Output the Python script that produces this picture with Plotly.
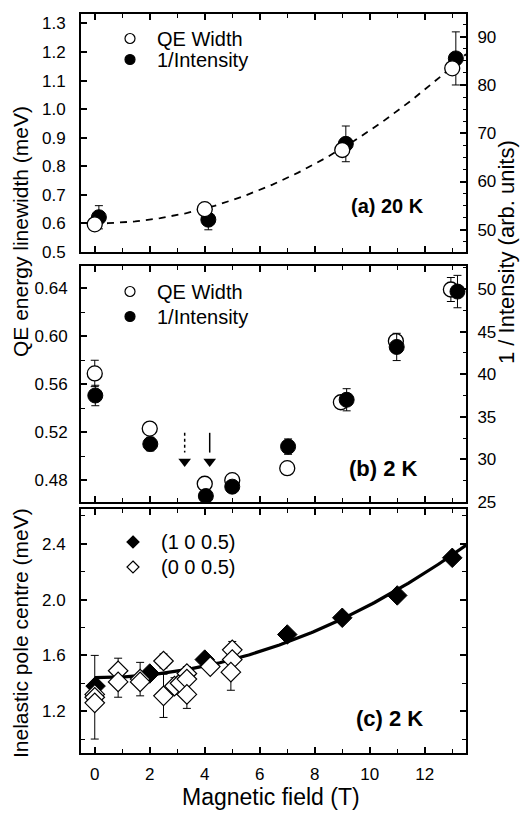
import numpy as np
import plotly.graph_objects as go

# ---------------- data ----------------
# (a) 20 K
field_a_width = [0.0, 4.0, 9.0, 13.0]
width_a = [0.597, 0.650, 0.857, 1.143]
field_a_int = [0.15, 4.13, 9.13, 13.13]
inv_int_a = [52.6, 52.1, 67.8, 85.5]
inv_int_a_err = [2.4, 2.1, 3.7, 5.5]
fit_a = [0.60, 0.00325]          # width = c0 + c2 * B^2

# (b) 2 K
field_b_width = [0.0, 2.0, 4.0, 5.0, 7.0, 8.95, 10.95, 12.95]
width_b = [0.569, 0.523, 0.477, 0.480, 0.490, 0.545, 0.596, 0.639]
width_b_err = [0.011, 0, 0, 0, 0.003, 0, 0, 0.010]
field_b_int = [0.02, 2.02, 4.04, 5.0, 7.03, 9.16, 10.98, 13.19]
inv_int_b = [37.5, 31.8, 25.7, 26.8, 31.5, 37.0, 43.2, 49.7]
inv_int_b_err = [1.2, 0.8, 0, 0, 0.9, 1.3, 1.6, 1.9]
arrow_fields = [3.27, 4.18]
arrow_top, arrow_base, arrow_head = 0.5195, 0.503, 0.4955

# (c) 2 K
field_c_100 = [0.03, 2.0, 4.0, 7.0, 9.0, 11.0, 13.0]
pole_100 = [1.38, 1.47, 1.57, 1.75, 1.87, 2.03, 2.30]
field_c_000 = [0.0, 0.0, 0.0, 0.85, 0.85, 1.65, 1.65, 2.5, 2.5, 2.9, 3.1,
               3.35, 3.35, 3.35, 4.2, 5.0, 5.0, 4.95]
pole_000 = [1.32, 1.30, 1.26, 1.49, 1.41, 1.43, 1.41, 1.56, 1.31, 1.38, 1.40,
            1.47, 1.43, 1.32, 1.52, 1.64, 1.57, 1.48]
pole_000_err = [0, 0.30, 0, 0.09, 0.11, 0.12, 0, 0.05, 0.155, 0.06, 0.05,
                0.05, 0, 0.10, 0.04, 0.06, 0, 0.13]
fit_c = [1.44, 0.00521]

x_ticks = [0, 2, 4, 6, 8, 10, 12]

# ---------------- layout geometry ----------------
W, H = 522, 813
ML, MR, MT, MB = 81, 56, 14, 60
FONT = "Liberation Sans, Arial, sans-serif"


def px_x(x):
    return (x - ML) / (W - ML - MR)


def px_y(y):
    return (H - MB - y) / (H - MT - MB)


dom_a = [px_y(252), px_y(14)]
dom_b = [px_y(502), px_y(266)]
dom_c = [0.0, px_y(509)]

fig = go.Figure()

err_style = dict(type="data", color="black", thickness=1, width=4)

# ---- panel (a): base axis y = right (1/intensity), overlay y4 = left (width)
fig.add_trace(go.Scatter(
    x=field_a_int, y=inv_int_a, mode="markers", xaxis="x", yaxis="y",
    marker=dict(symbol="circle", size=15, color="black",
                line=dict(color="black", width=1)),
    error_y=dict(array=inv_int_a_err, **err_style), showlegend=False))
bb = np.linspace(-0.5, 13.5, 200)
fig.add_trace(go.Scatter(
    x=bb, y=fit_a[0] + fit_a[1] * bb ** 2, mode="lines", xaxis="x", yaxis="y4",
    line=dict(color="black", width=1.8, dash="7px,6px"), showlegend=False))
fig.add_trace(go.Scatter(
    x=field_a_width, y=width_a, mode="markers", xaxis="x", yaxis="y4",
    marker=dict(symbol="circle", size=15, color="white",
                line=dict(color="black", width=1.3)), showlegend=False))

# ---- panel (b): base y2 = left (width), overlay y5 = right (1/intensity)
fig.add_trace(go.Scatter(
    x=field_b_width, y=width_b, mode="markers", xaxis="x2", yaxis="y2",
    marker=dict(symbol="circle", size=15, color="white",
                line=dict(color="black", width=1.3)),
    error_y=dict(array=width_b_err, **err_style), showlegend=False))
for i, xf in enumerate(arrow_fields):
    fig.add_trace(go.Scatter(
        x=[xf, xf], y=[arrow_top, arrow_base], mode="lines", xaxis="x2", yaxis="y2",
        line=dict(color="black", width=1.5, dash="dot" if i == 0 else "solid"),
        showlegend=False))
    fig.add_trace(go.Scatter(
        x=[xf], y=[arrow_head], mode="markers", xaxis="x2", yaxis="y2",
        marker=dict(symbol="triangle-down", size=11, color="black"),
        showlegend=False))
fig.add_trace(go.Scatter(
    x=field_b_int, y=inv_int_b, mode="markers", xaxis="x2", yaxis="y5",
    marker=dict(symbol="circle", size=15, color="black",
                line=dict(color="black", width=1)),
    error_y=dict(array=inv_int_b_err, **err_style), showlegend=False))

# ---- panel (c)
bc = np.linspace(0, 13.5, 200)
fig.add_trace(go.Scatter(
    x=bc, y=fit_c[0] + fit_c[1] * bc ** 2, mode="lines", xaxis="x3", yaxis="y3",
    line=dict(color="black", width=3.2), showlegend=False))
fig.add_trace(go.Scatter(
    x=field_c_100, y=pole_100, mode="markers", xaxis="x3", yaxis="y3",
    marker=dict(symbol="diamond", size=15, color="black",
                line=dict(color="black", width=1)), showlegend=False))
fig.add_trace(go.Scatter(
    x=field_c_000, y=pole_000, mode="markers", xaxis="x3", yaxis="y3",
    marker=dict(symbol="diamond", size=15, color="white",
                line=dict(color="black", width=1.2)),
    error_y=dict(array=pole_000_err, **err_style), showlegend=False))

# ---------------- axes ----------------
tickfont = dict(family=FONT, size=17, color="black")
frame = dict(showline=True, linecolor="black", linewidth=2, ticks="inside",
             tickcolor="black", tickwidth=1.5, showgrid=False, zeroline=False,
             tickfont=tickfont)


def xax(anchor, labels):
    return dict(frame, domain=[0, 1], anchor=anchor, range=[-0.5, 13.5],
                tickvals=x_ticks, ticklen=6, mirror="ticks",
                showticklabels=labels, ticklabelstandoff=5,
                minor=dict(dtick=1, tick0=0, ticklen=4, ticks="inside",
                           tickcolor="black", tickwidth=1.2))


fig.update_layout(
    xaxis=xax("y", False),
    xaxis2=xax("y2", False),
    xaxis3=xax("y3", True),
    # (a) right: 1/intensity
    yaxis=dict(frame, domain=dom_a, anchor="x", side="right", range=[45.4, 94.7],
               dtick=10, tick0=0, ticklen=6, ticklabelstandoff=6,
               minor=dict(dtick=2.5, ticklen=3.5, ticks="inside",
                          tickcolor="black", tickwidth=1.2)),
    # (a) left: width
    yaxis4=dict(frame, overlaying="y", anchor="x", side="left", range=[0.5, 1.333],
                dtick=0.1, tick0=0, ticklen=6, tickformat=".1f",
                ticklabelstandoff=10),
    # (b) left: width
    yaxis2=dict(frame, domain=dom_b, anchor="x2", side="left",
                range=[0.4618, 0.6586], dtick=0.04, tick0=0.48, ticklen=6,
                tickformat=".2f", ticklabelstandoff=8,
                minor=dict(dtick=0.02, ticklen=3.5, ticks="inside",
                           tickcolor="black", tickwidth=1.2)),
    # (b) right: 1/intensity
    yaxis5=dict(frame, overlaying="y2", anchor="x2", side="right",
                range=[25.0, 52.7], dtick=5, tick0=0, ticklen=6,
                ticklabelstandoff=6,
                minor=dict(dtick=2.5, ticklen=3.5, ticks="inside",
                           tickcolor="black", tickwidth=1.2)),
    # (c)
    yaxis3=dict(frame, domain=dom_c, anchor="x3", range=[0.9, 2.65],
                dtick=0.4, tick0=0, ticklen=6, mirror="ticks",
                tickformat=".1f", ticklabelstandoff=10,
                minor=dict(dtick=0.2, ticklen=4, ticks="inside",
                           tickcolor="black", tickwidth=1.2)),
)

# ---------------- legends (drawn as symbols + text) ----------------
shapes = []
annotations = []


def circle(cx, cy, filled, r=5):
    shapes.append(dict(type="circle", xref="paper", yref="paper",
                       xsizemode="pixel", ysizemode="pixel",
                       xanchor=px_x(cx), yanchor=px_y(cy),
                       x0=-r, x1=r, y0=-r, y1=r,
                       fillcolor="black" if filled else "white",
                       line=dict(color="black", width=1.2)))


def diamond(cx, cy, filled, r=6):
    shapes.append(dict(type="path", xref="paper", yref="paper",
                       xsizemode="pixel", ysizemode="pixel",
                       xanchor=px_x(cx), yanchor=px_y(cy),
                       path=f"M 0,{r} L {r},0 L 0,{-r} L {-r},0 Z",
                       fillcolor="black" if filled else "white",
                       line=dict(color="black", width=1.2)))


def text(x, y, s, size=20, bold=False, angle=0, anchor="left"):
    annotations.append(dict(xref="paper", yref="paper", x=px_x(x), y=px_y(y),
                            text=f"<b>{s}</b>" if bold else s, showarrow=False,
                            textangle=angle, xanchor=anchor, yanchor="middle",
                            borderpad=0,
                            font=dict(family=FONT, size=size, color="black")))


circle(130, 38.5, False)
circle(130, 59.5, True)
text(156, 38.5, "QE Width")
text(156, 59.5, "1/Intensity")

circle(130, 291.5, False)
circle(130, 316.5, True)
text(156, 291.5, "QE Width")
text(156, 316.5, "1/Intensity")

diamond(133, 542, True)
diamond(133, 567, False)
text(160, 542, "(1 0 0.5)")
text(160, 567, "(0 0 0.5)")

# panel labels
text(425, 206, "(a) 20 K", size=20, bold=True, anchor="right")
text(419, 468, "(b) 2 K", size=22, bold=True, anchor="right")
text(424, 718, "(c) 2 K", size=22, bold=True, anchor="right")

# axis titles
text(20, 232, "QE energy linewidth (meV)", size=21, angle=-90, anchor="center")
text(507, 252, "1 / Intensity (arb. units)", size=22, angle=-90, anchor="center")
text(20, 633, "Inelastic pole centre (meV)", size=21, angle=-90, anchor="center")
text(271, 797, "Magnetic field (T)", size=23, anchor="center")

fig.update_layout(
    width=W, height=H, margin=dict(l=ML, r=MR, t=MT, b=MB, pad=0),
    paper_bgcolor="white", plot_bgcolor="white", showlegend=False,
    shapes=shapes, annotations=annotations,
    font=dict(family=FONT, color="black"),
)

fig.write_html("out.html")
